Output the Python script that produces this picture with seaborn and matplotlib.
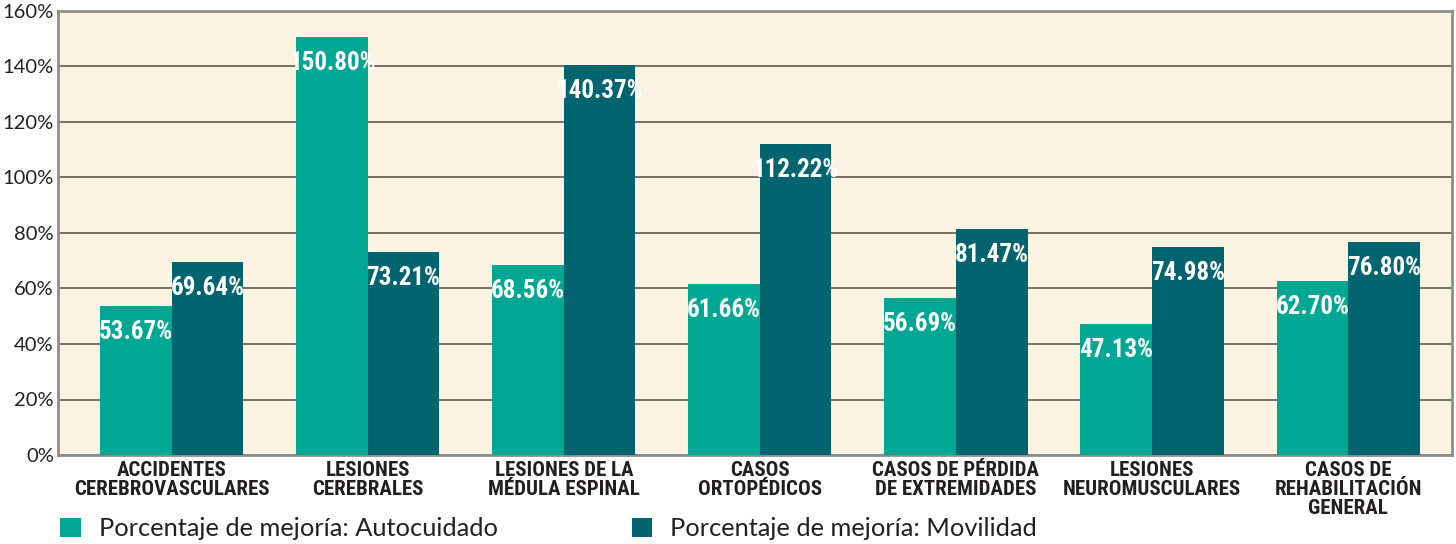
import numpy as np
import pandas as pd
import matplotlib.pyplot as plt
import seaborn as sns
from matplotlib.patches import Patch
from matplotlib import font_manager

categorias = ['ACCIDENTES\nCEREBROVASCULARES', 'LESIONES\nCEREBRALES', 'LESIONES DE LA\nMÉDULA ESPINAL',
              'CASOS\nORTOPÉDICOS', 'CASOS DE PÉRDIDA\nDE EXTREMIDADES', 'LESIONES\nNEUROMUSCULARES',
              'CASOS DE\nREHABILITACIÓN\nGENERAL']
autocuidado = [53.67, 150.80, 68.56, 61.66, 56.69, 47.13, 62.70]
movilidad = [69.64, 73.21, 140.37, 112.22, 81.47, 74.98, 76.80]
series = ['Porcentaje de mejoría: Autocuidado', 'Porcentaje de mejoría: Movilidad']
colores = ['#00A893', '#02646F']

df = pd.DataFrame({
    'cat': categorias * 2,
    'valor': autocuidado + movilidad,
    'serie': [series[0]] * 7 + [series[1]] * 7,
})

sns.set_style('white')
plt.rcParams['font.family'] = ['Lato', 'DejaVu Sans']

# pick a narrow bold face if one is there
nombres = {f.name for f in font_manager.fontManager.ttflist}
estrecha = [n for n in ['Liberation Sans Narrow', 'Roboto Condensed', 'DejaVu Sans Condensed',
                        'Open Sans Condensed', 'Roboto'] if n in nombres] + ['DejaVu Sans']

fig = plt.figure(figsize=(14.56, 5.44), dpi=100)
ax = fig.add_axes([0.0398, 0.1636, 0.9575, 0.8162])
ax.set_facecolor('#FCF4E3')

sns.barplot(data=df, x='cat', y='valor', hue='serie', palette=colores, width=0.73,
            saturation=1, legend=False, ax=ax, zorder=3, linewidth=0)

ax.set_xlim(-0.58, 6.53)
ax.set_ylim(0, 160)
ax.set_yticks(np.arange(0, 161, 20))
ax.set_yticklabels([f'{v}%' for v in range(0, 161, 20)], fontsize=14.5, color='#231F20')
ax.yaxis.grid(True, color='#6E6558', linewidth=1.3, zorder=0)
ax.set_axisbelow(True)
ax.tick_params(axis='y', length=0, pad=3)
ax.tick_params(axis='x', length=0, pad=4)
ax.set_xlabel('')
ax.set_ylabel('')
for lbl in ax.get_xticklabels():
    lbl.set_family(estrecha)
    lbl.set_fontweight('bold')
    lbl.set_fontstretch('condensed')
    lbl.set_fontsize(15)
    lbl.set_color('#231F20')
    lbl.set_linespacing(1.0)
    lbl.set_verticalalignment('top')

for s in ax.spines.values():
    s.set_color('#8F8E86')
    s.set_linewidth(2)

for cont in ax.containers:
    for bar in cont:
        h = bar.get_height()
        ax.annotate(f'{h:.2f}%', (bar.get_x() + bar.get_width() / 2, h),
                    xytext=(0, -26), textcoords='offset pixels', ha='center', va='center',
                    color='white', fontsize=18, fontweight='bold', fontstretch='condensed',
                    family=estrecha, zorder=4)

for serie, color, xpos in zip(series, colores, [0.0415, 0.434]):
    fig.legend([Patch(facecolor=color, edgecolor='none')], [serie], loc='center left',
               bbox_to_anchor=(xpos, 0.028), frameon=False, fontsize=18.3,
               handlelength=0.8, handleheight=0.8, handletextpad=0.7, labelcolor='#231F20',
               borderpad=0, borderaxespad=0)

fig.savefig('out.png', dpi=100, facecolor='white')
